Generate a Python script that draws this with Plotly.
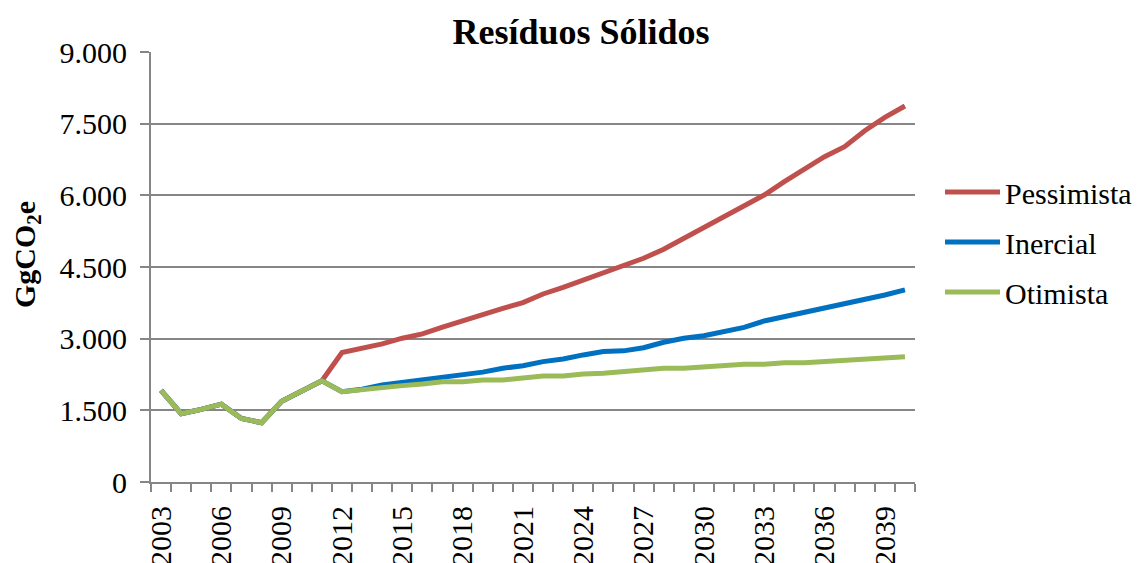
import plotly.graph_objects as go

years = list(range(2003, 2041))
historico = [1920, 1430, 1520, 1630, 1330, 1240, 1690, 1910, 2120]
pessimista_proj = [2710, 2800, 2890, 3010, 3100, 3240, 3380, 3510, 3635, 3755,
                   3935, 4075, 4230, 4390, 4530, 4682, 4870, 5100, 5330, 5540,
                   5763, 6007, 6286, 6551, 6809, 7019, 7353, 7633, 7870]
inercial_proj = [1890, 1940, 2030, 2080, 2135, 2205, 2255, 2300, 2380, 2435,
                 2520, 2575, 2660, 2730, 2745, 2811, 2924, 3007, 3063, 3146,
                 3237, 3370, 3460, 3544, 3635, 3719, 3830, 3914, 4020]
otimista_proj = [1890, 1940, 1975, 2017, 2052, 2100, 2100, 2135, 2135, 2177,
                 2219, 2219, 2261, 2275, 2310, 2344, 2379, 2379, 2414, 2428,
                 2463, 2463, 2498, 2498, 2519, 2540, 2582, 2582, 2623]
y_ticks = [0, 1500, 3000, 4500, 6000, 7500, 9000]
x_ticks = list(range(2003, 2041, 3))

series = [
    ("Pessimista", historico + pessimista_proj, "#C0504D"),
    ("Inercial", historico + inercial_proj, "#0070C0"),
    ("Otimista", historico + otimista_proj, "#9BBB59"),
]

FONT = "Liberation Serif"
GRID = "#868686"
W, H = 1138, 563

fig = go.Figure()
for name, vals, color in series:
    fig.add_trace(go.Scatter(x=years, y=vals, name=name, mode="lines",
                             legendgroup=name,
                             line=dict(color=color, width=5)))

fig.update_layout(
    width=W, height=H,
    margin=dict(l=151, r=223, t=52, b=81, autoexpand=False),
    paper_bgcolor="white", plot_bgcolor="white",
    separators=",.",
    font=dict(family=FONT, color="black", size=30),
    title=dict(text="<b>Resíduos Sólidos</b>", x=581/W, xanchor="center",
               y=1 - 31/H, yanchor="middle",
               font=dict(family=FONT, size=36, color="black")),
    showlegend=True,
    legend=dict(x=(940 - 151) / 764, xanchor="left", y=(482 - 166) / 430, yanchor="top",
                font=dict(family=FONT, size=30, color="black"),
                bgcolor="rgba(0,0,0,0)", itemwidth=55, tracegroupgap=8),
    annotations=[dict(text="<b>GgCO<sub>2</sub>e</b>", textangle=-90,
                      xref="paper", yref="paper",
                      x=-(151 - 27) / 764, y=(482 - 255) / 430,
                      xanchor="center", yanchor="middle", showarrow=False,
                      font=dict(family=FONT, size=30, color="black"))],
)
fig.update_yaxes(range=[0, 9000], tickvals=y_ticks, tickformat=",d",
                 automargin=False,
                 showgrid=True, gridcolor=GRID, gridwidth=2,
                 showline=True, linecolor=GRID, linewidth=2,
                 ticks="outside", ticklen=9, tickcolor=GRID, tickwidth=2,
                 ticklabelstandoff=7,
                 tickfont=dict(family=FONT, size=30, color="black"),
                 zeroline=False)
fig.update_xaxes(range=[2002.5, 2040.5], tickvals=x_ticks, tickangle=-90,
                 automargin=False,
                 showgrid=False, zeroline=False,
                 showline=True, linecolor=GRID, linewidth=2,
                 ticks="", ticklabelstandoff=10,
                 tickfont=dict(family=FONT, size=30, color="black"),
                 minor=dict(tick0=2002.5, dtick=1, ticks="outside", ticklen=8,
                            tickcolor=GRID, tickwidth=2, showgrid=False))

fig.write_html("out.html", config={"displayModeBar": False},
               post_script="document.body.style.margin='0';")
